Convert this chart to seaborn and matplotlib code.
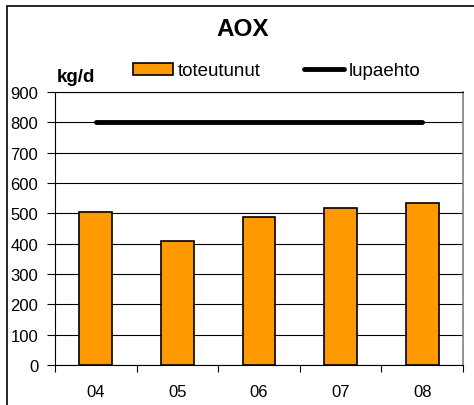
import matplotlib
matplotlib.use('Agg')
import matplotlib.pyplot as plt
import seaborn as sns
import pandas as pd
from matplotlib.patches import Patch, Rectangle
from matplotlib.lines import Line2D

years = ['04', '05', '06', '07', '08']
toteutunut = [503, 409, 489, 516, 533]
lupaehto = [800, 800, 800, 800, 800]

sns.set_style('white')
plt.rcParams['font.family'] = ['Liberation Sans', 'DejaVu Sans']
plt.rcParams['text.color'] = 'black'
plt.rcParams['xtick.color'] = 'black'
plt.rcParams['ytick.color'] = 'black'

df = pd.DataFrame({'vuosi': years, 'toteutunut': toteutunut})

fig = plt.figure(figsize=(4.74, 4.06), dpi=100)
ax = fig.add_axes([55/474, (406-366)/406, (463-55)/474, (366-93)/406])

ax.set_axisbelow(True)
ax.yaxis.grid(True, color='black', linewidth=0.8)
sns.barplot(data=df, x='vuosi', y='toteutunut', color='#FF9900', width=0.4,
            edgecolor='black', linewidth=1.2, saturation=1, ax=ax)
ax.plot(range(len(years)), lupaehto, color='black', linewidth=3.5,
        solid_capstyle='round')

ax.set_xlim(-0.5, len(years) - 0.5)
ax.set_ylim(0, 900)
ax.set_yticks(range(0, 901, 100))
ax.set_xlabel('')
ax.set_ylabel('')
ax.set_xticks([i - 0.5 for i in range(len(years) + 1)], minor=True)
ax.tick_params(axis='x', which='major', length=0, labelsize=12, pad=14)
ax.tick_params(axis='x', which='minor', length=5, width=0.8, color='black',
               direction='out', bottom=True)
ax.tick_params(axis='y', length=6, width=0.8, color='black', direction='out',
               left=True, labelsize=12, pad=6)
for s in ['left', 'bottom', 'top']:
    ax.spines[s].set_color('black')
    ax.spines[s].set_linewidth(0.8)
ax.spines['right'].set_color('#808080')
ax.spines['right'].set_linewidth(1.2)

fig.text(243/474, 1 - 29/406, 'AOX', ha='center', va='center',
         fontsize=17.5, fontweight='bold')
fig.text(57/474, 1 - 78/406, 'kg/d', ha='left', va='center',
         fontsize=13.5, fontweight='bold')

handles = [Patch(facecolor='#FF9900', edgecolor='black', linewidth=1.2),
           Line2D([0], [0], color='black', linewidth=3.5, solid_capstyle='round')]
fig.legend(handles, ['toteutunut', 'lupaehto'], ncol=2, frameon=False,
           loc='center left', bbox_to_anchor=(133/474, 1 - 72/406),
           fontsize=13.5, handlelength=2.13, handleheight=0.55,
           handletextpad=0.27, columnspacing=2.3, borderpad=0, borderaxespad=0)

fig.add_artist(Rectangle((7/474, -0.1), 1.2, 1 - 7/406 + 0.1,
                         transform=fig.transFigure, fill=False,
                         edgecolor='black', linewidth=1.2))

fig.savefig('out.png', dpi=100)
